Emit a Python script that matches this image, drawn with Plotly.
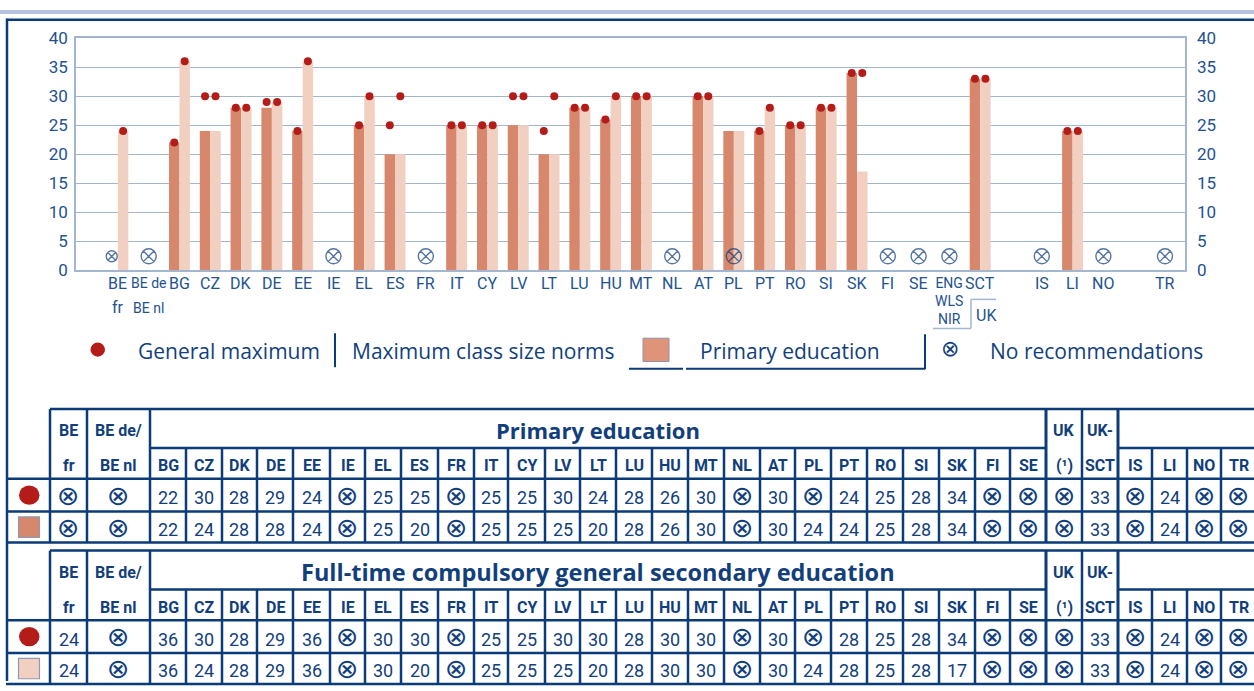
import plotly.graph_objects as go

W, H = 1254, 691

# ---------------- data ----------------
countries = ["BE fr", "BE de/BE nl", "BG", "CZ", "DK", "DE", "EE", "IE", "EL", "ES",
             "FR", "IT", "CY", "LV", "LT", "LU", "HU", "MT", "NL", "AT", "PL", "PT",
             "RO", "SI", "SK", "FI", "SE", "UK (1)", "UK-SCT", "IS", "LI", "NO", "TR"]
# slot of each country on the chart's x axis (gaps before IS and TR)
chart_x = list(range(29)) + [30, 31, 32, 34]

N = None  # no recommendations
prim_max = [N, N, 22, 30, 28, 29, 24, N, 25, 25, N, 25, 25, 30, 24, 28, 26, 30, N, 30, N,
            24, 25, 28, 34, N, N, N, 33, N, 24, N, N]
prim_norm = [N, N, 22, 24, 28, 28, 24, N, 25, 20, N, 25, 25, 25, 20, 28, 26, 30, N, 30, 24,
             24, 25, 28, 34, N, N, N, 33, N, 24, N, N]
sec_max = [24, N, 36, 30, 28, 29, 36, N, 30, 30, N, 25, 25, 30, 30, 28, 30, 30, N, 30, N,
           28, 25, 28, 34, N, N, N, 33, N, 24, N, N]
sec_norm = [24, N, 36, 24, 28, 29, 36, N, 30, 20, N, 25, 25, 25, 20, 28, 30, 30, N, 30, 24,
            28, 25, 28, 17, N, N, N, 33, N, 24, N, N]

chart_labels = [["BE", "fr"], ["BE de", "BE nl"], ["BG"], ["CZ"], ["DK"], ["DE"], ["EE"],
                ["IE"], ["EL"], ["ES"], ["FR"], ["IT"], ["CY"], ["LV"], ["LT"], ["LU"],
                ["HU"], ["MT"], ["NL"], ["AT"], ["PL"], ["PT"], ["RO"], ["SI"], ["SK"],
                ["FI"], ["SE"], ["ENG", "WLS", "NIR"], ["SCT"], ["IS"], ["LI"], ["NO"], ["TR"]]

head_top = ["BE", "BE de/"] + [""] * 25 + ["UK", "UK-"] + [""] * 4
head_bottom = ["fr", "BE nl", "BG", "CZ", "DK", "DE", "EE", "IE", "EL", "ES", "FR", "IT",
               "CY", "LV", "LT", "LU", "HU", "MT", "NL", "AT", "PL", "PT", "RO", "SI", "SK",
               "FI", "SE", "(\u00b9)", "SCT", "IS", "LI", "NO", "TR"]

y_ticks = [0, 5, 10, 15, 20, 25, 30, 35, 40]

# ---------------- styles ----------------
NAVY = "#0b3b78"
TXT = "#123f7c"
AXT = "#23528f"
GRID = "#a3b6d0"
DARK = "#d6876c"
LIGHT = "#f2d0c1"
RED = "#b41c1a"
SWATCH = "#df9479"
COND = "Roboto, Lato, sans-serif"
SANS = "Open Sans, Noto Sans, sans-serif"
SYM = "DejaVu Sans, sans-serif"
SMALL_LABELS = {"BE de", "BE nl"}
HALF = 0.17
NOREC_Y = 2.4


def px(x):
    return x / W


def py(y):
    return 1 - y / H


fig = go.Figure()

# bars: primary (left) and secondary (right) class size norms
fig.add_trace(go.Bar(x=chart_x, y=prim_norm, width=2 * HALF, offset=-2 * HALF,
                     marker=dict(color=DARK, line=dict(width=0)), hoverinfo="skip"))
fig.add_trace(go.Bar(x=chart_x, y=sec_norm, width=2 * HALF, offset=0,
                     marker=dict(color=LIGHT, line=dict(width=0)), hoverinfo="skip"))

# general maximum dots
fig.add_trace(go.Scatter(x=[v - HALF for v in chart_x], y=prim_max, mode="markers",
                         marker=dict(color=RED, size=8), hoverinfo="skip"))
fig.add_trace(go.Scatter(x=[v + HALF for v in chart_x], y=sec_max, mode="markers",
                         marker=dict(color=RED, size=8), hoverinfo="skip"))

# "no recommendations" symbols
nr_x, nr_size = [], []
for i, xc in enumerate(chart_x):
    if prim_max[i] is None and sec_max[i] is None:
        nr_x.append(xc)
        nr_size.append(15)
    elif prim_max[i] is None and prim_norm[i] is None:
        nr_x.append(xc - 0.2)
        nr_size.append(11)
fig.add_trace(go.Scatter(x=nr_x, y=[NOREC_Y] * len(nr_x), mode="markers", yaxis="y2",
                         marker=dict(symbol="circle-x-open", size=nr_size, color=NAVY,
                                     line=dict(width=1.4, color=NAVY)),
                         hoverinfo="skip"))

tickfont = dict(family=COND, size=17, color=AXT)
fig.update_layout(
    width=W, height=H, margin=dict(l=0, r=0, t=0, b=0),
    paper_bgcolor="white", plot_bgcolor="white", showlegend=False,
    barmode="overlay",
    xaxis=dict(domain=[px(76), px(1185)], range=[-1.36, 34.65], showticklabels=False,
               showgrid=False, zeroline=False, showline=True, mirror=True,
               linecolor=GRID, linewidth=1.5, fixedrange=True),
    yaxis=dict(domain=[py(268), py(29)], range=[0, 40], tickvals=y_ticks,
               gridcolor=GRID, gridwidth=1.3, zeroline=False, showline=True, mirror=True,
               linecolor=GRID, linewidth=1.5, ticks="", ticklabelstandoff=3,
               tickfont=tickfont),
    yaxis2=dict(overlaying="y", side="right", anchor="x", range=[0, 40], tickvals=y_ticks,
                showgrid=False, zeroline=False, showline=False, ticks="",
                ticklabelstandoff=11, tickfont=tickfont),
)

shapes = []
annots = []


def line(x0, y0, x1, y1, color=NAVY, width=2.5):
    shapes.append(dict(type="line", xref="paper", yref="paper", x0=px(x0), y0=py(y0),
                       x1=px(x1), y1=py(y1), line=dict(color=color, width=width)))


def text(t, x, y, size, family=COND, color=TXT, xanchor="center"):
    annots.append(dict(text=t, x=px(x), y=py(y), xref="paper", yref="paper",
                       showarrow=False, xanchor=xanchor, yanchor="middle",
                       font=dict(family=family, size=size, color=color)))


# page frame
shapes.append(dict(type="rect", xref="paper", yref="paper", x0=0, x1=1, y0=py(4), y1=1,
                   fillcolor="#b7c1dc", line=dict(width=0)))
line(6, 10, W, 10, width=2.5)
line(7, 9, 7, H, width=2.5)

# category labels below the chart
for xc, lines in zip(chart_x, chart_labels):
    if len(lines) == 3:
        annots.append(dict(text="<br>".join(lines), x=xc, xref="x", y=py(300),
                           yref="paper", showarrow=False, xanchor="center",
                           yanchor="middle",
                           font=dict(family=COND, size=14, color=AXT)))
        continue
    for k, t in enumerate(lines):
        annots.append(dict(text=t, x=xc, xref="x", y=py(281.5 + k * 25), yref="paper",
                           showarrow=False, xanchor="center", yanchor="middle",
                           font=dict(family=COND, size=14 if t in SMALL_LABELS else 16,
                                     color=AXT)))
# UK bracket
line(933, 328, 971, 328, color=GRID, width=1.5)
line(971, 328, 971, 298, color=GRID, width=1.5)
line(971, 298, 996, 298, color=GRID, width=1.5)
text("UK", 986, 315, 16, color=AXT)

# legend
shapes.append(dict(type="circle", xref="paper", yref="paper", x0=px(90.5), x1=px(105),
                   y0=py(357), y1=py(342.5), fillcolor=RED, line=dict(width=0)))
text("General maximum", 136, 351, 21, family=SANS, color=TXT, xanchor="left")
line(335, 333, 335, 368, width=2)
text("Maximum class size norms", 350, 351, 21, family=SANS, color=TXT, xanchor="left")
shapes.append(dict(type="rect", xref="paper", yref="paper", x0=px(643), x1=px(669),
                   y0=py(362), y1=py(338), fillcolor=SWATCH,
                   line=dict(color="#8e94a8", width=1)))
line(629, 369.5, 683, 369.5, width=2)
line(686, 369.5, 925, 369.5, width=2)
line(925, 334, 925, 370, width=2)
text("Primary education", 698, 351, 21, family=SANS, color=TXT, xanchor="left")
text("\u2297", 950, 349, 22, family=SYM, color=TXT)
text("No recommendations", 988, 351, 21, family=SANS, color=TXT, xanchor="left")

# ---------------- tables ----------------
col_edges = [50, 87, 150, 186, 222, 257, 293, 330, 365, 401, 438, 474, 508, 545, 580, 616,
             652, 688, 724, 760, 795, 831, 867, 903, 939, 975, 1010, 1046, 1082, 1118, 1152,
             1187, 1221, 1256]
full_height_edges = {50, 87, 150, 1046, 1082, 1118}


def table(top, title, title_size, row_max, row_norm, square_color):
    hb, cb, r1, r2 = top + 40, top + 71.7, top + 105.5, top + 137.5
    line(50, top, W, top)
    line(150, hb, 1046, hb)
    line(1118, hb, W, hb)
    for yy in (cb, r1, r2):
        line(6, yy, W, yy)
    for e in col_edges[:-1]:
        if e in full_height_edges:
            line(e, top, e, r2, width=3 if e in (1046, 1118) else 2.5)
        else:
            line(e, hb, e, r2)
    text("<b>" + title + "</b>", 598, top + 22, title_size, family=SANS, color=TXT)
    c1 = (cb + r1) / 2
    c2 = (r1 + r2) / 2
    shapes.append(dict(type="circle", xref="paper", yref="paper", x0=px(19), x1=px(39.5),
                       y0=py(c1 + 10), y1=py(c1 - 10), fillcolor=RED, line=dict(width=0)))
    shapes.append(dict(type="rect", xref="paper", yref="paper", x0=px(18.5), x1=px(39.5),
                       y0=py(c2 + 10.5), y1=py(c2 - 10.5), fillcolor=square_color,
                       line=dict(color="#8e9ab3", width=1.2)))
    for i in range(len(countries)):
        xc = (col_edges[i] + col_edges[i + 1]) / 2
        if head_top[i]:
            text("<b>" + head_top[i] + "</b>", xc, top + 22.5, 16)
        text("<b>" + head_bottom[i] + "</b>", xc, top + 58.5, 16)
        for v, yc in ((row_max[i], c1), (row_norm[i], c2)):
            if v is None:
                text("\u2297", xc, yc, 27, family=SYM)
            else:
                text(str(v), xc, yc + 2.5, 18)


table(411, "Primary education", 22, prim_max, prim_norm, DARK)
table(556.7, "Full-time compulsory general secondary education", 23.5, sec_max, sec_norm,
      LIGHT)

fig.update_layout(shapes=shapes, annotations=annots)
fig.write_html("out.html")
